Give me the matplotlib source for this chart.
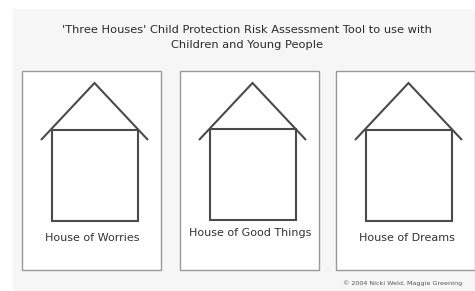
import matplotlib
matplotlib.use("Agg")
import matplotlib.pyplot as plt
from matplotlib.patches import Rectangle

title_lines = ["'Three Houses' Child Protection Risk Assessment Tool to use with",
               "Children and Young People"]
house_labels = ["House of Worries", "House of Good Things", "House of Dreams"]
panel_left = [22, 180, 336]
label_y = [238, 233, 238]
credit = "\u00a9 2004 Nicki Weld, Maggie Greening"

W, H = 475, 291
fig = plt.figure(figsize=(W / 100, H / 100), dpi=100)
ax = fig.add_axes([0, 0, 1, 1])
ax.set_xlim(0, W)
ax.set_ylim(H, 0)
ax.axis("off")
fig.patch.set_facecolor("white")

# background panel
ax.add_patch(Rectangle((13, 9), W - 13, H - 9, facecolor="#f6f6f6", edgecolor="none", zorder=0))

font = "DejaVu Sans"
ax.text(247, 30, title_lines[0], ha="center", va="center", fontsize=8.2, color="#2a2a2a", family=font)
ax.text(247, 45, title_lines[1], ha="center", va="center", fontsize=8.2, color="#2a2a2a", family=font)

pw, ph, ptop = 139, 199, 71
line_c = "#4a4a4a"
for i, lab in enumerate(house_labels):
    x0 = panel_left[i]
    ax.add_patch(Rectangle((x0, ptop), pw, ph, facecolor="white", edgecolor="#9a9a9a", lw=1.0, zorder=1))
    cx = x0 + pw / 2 + 3
    # house body
    bw, bh = 86, 91
    btop = 130 if i != 1 else 129
    ax.add_patch(Rectangle((cx - bw / 2, btop), bw, bh, facecolor="none", edgecolor=line_c, lw=1.5, zorder=2))
    # roof
    apex_y = 83
    half = 53.5
    ax.plot([cx - half, cx, cx + half], [140, apex_y, 140], color=line_c, lw=1.5, zorder=2,
            solid_capstyle="butt", solid_joinstyle="miter")
    ax.text(cx - 2, label_y[i], lab, ha="center", va="center", fontsize=8.0, color="#333333", family=font)

ax.text(462, 283, credit, ha="right", va="center", fontsize=4.6, color="#555555", family=font)

fig.savefig("out.png", dpi=100)
